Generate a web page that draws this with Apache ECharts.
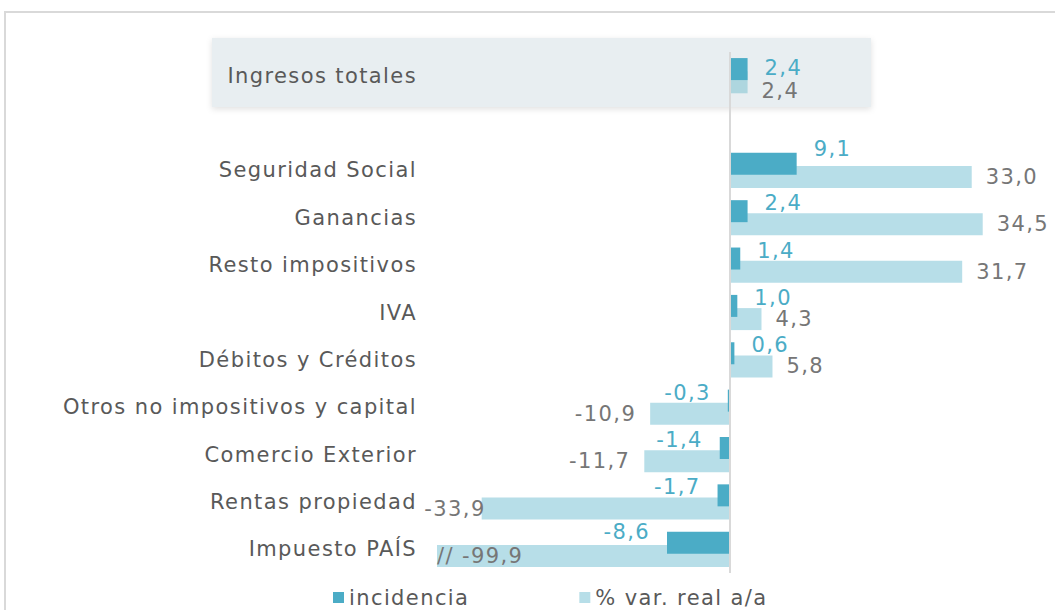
<!DOCTYPE html>
<html>
<head>
<meta charset="utf-8">
<script src="https://cdn.jsdelivr.net/npm/echarts@6/dist/echarts.min.js"></script>
<style>
  html, body { margin: 0; padding: 0; background: #fff; }
  #wrap { position: relative; width: 1055px; height: 610px; overflow: hidden; }
  #frame {
    position: absolute; left: 4px; top: 11px; width: 1200px; height: 700px;
    border-top: 2px solid #d9d9d9; border-left: 2px solid #d9d9d9;
  }
  #chart { position: absolute; left: 0; top: 0; width: 1055px; height: 610px; }
  /* la fuente original es más ancha */
  #chart text { letter-spacing: 1.4px; }
</style>
</head>
<body>
<div id="wrap">
  <div id="frame"></div>
  <div id="chart"></div>
</div>
<script>
// categorías (la fila vacía separa el total del resto)
const categories = [
  'Ingresos totales', '', 'Seguridad Social', 'Ganancias', 'Resto impositivos', 'IVA',
  'Débitos y Créditos', 'Otros no impositivos y capital', 'Comercio Exterior',
  'Rentas propiedad', 'Impuesto PAÍS'
]
// incidencia (p.p.)
const incidencia = [2.4, null, 9.1, 2.4, 1.4, 1.0, 0.6, -0.3, -1.4, -1.7, -8.6]
// % var. real a/a
const varReal = [2.4, null, 33.0, 34.5, 31.7, 4.3, 5.8, -10.9, -11.7, -33.9, -99.9]

const AXIS_MIN = -40
const AXIS_MAX = 40

const dark = '#4BACC6'
const light = '#B7DEE8'
const fontFamily = "'Century Gothic', 'DejaVu Sans', sans-serif"

const fmt = v => v.toFixed(1).replace('.', ',')

// desplazamiento vertical de etiquetas (como en el original)
const darkLift = { 0: -1, 2: -15, 10: -11 }
const lightLift = { 0: 9 }

const chart = echarts.init(document.getElementById('chart'), null, { renderer: 'svg' })

const darkData = incidencia.map((v, i) => {
  if (v == null) return null
  const item = {
    value: v,
    label: {
      position: v >= 0 ? 'right' : 'left',
      offset: [0, i in darkLift ? darkLift[i] : -8]
    }
  }
  if (i === 0) item.label.lineHeight = 20
  return item
})

const lightData = varReal.map((v, i) => {
  if (v == null) return null
  const item = {
    value: v,
    label: {
      position: v >= 0 ? 'right' : 'left',
      offset: [0, lightLift[i] || 0]
    }
  }
  if (i === 9) item.label.distance = -4
  if (v < AXIS_MIN) {
    // barra truncada
    item.label = { position: 'insideLeft', distance: 0, formatter: p => '// ' + fmt(p.value) }
  }
  if (i === 0) {
    item.label.lineHeight = 20
    item.itemStyle = { color: '#AED6DF' }
  }
  return item
})

const option = {
  animation: false,
  textStyle: { fontFamily },
  grid: { left: 437, right: 32, top: 52, bottom: 37 },
  graphic: [{
    type: 'rect',
    z: -10,
    shape: { x: 212, y: 38, width: 659, height: 69 },
    style: {
      fill: '#E8EEF1',
      shadowBlur: 6,
      shadowColor: 'rgba(0,0,0,0.12)',
      shadowOffsetY: 2
    }
  }],
  legend: {
    left: 328,
    top: 582,
    itemWidth: 11,
    itemHeight: 11,
    itemGap: 124,
    icon: 'rect',
    textStyle: { fontSize: 21, color: '#595959', fontFamily },
    data: ['incidencia', '% var. real a/a']
  },
  xAxis: {
    type: 'value',
    min: AXIS_MIN,
    max: AXIS_MAX,
    show: false
  },
  yAxis: {
    type: 'category',
    inverse: true,
    data: categories,
    axisLine: { show: false },
    axisTick: { show: false },
    splitLine: { show: false },
    axisLabel: { margin: 20, fontSize: 21, color: '#595959', fontFamily }
  },
  series: [
    {
      name: 'incidencia',
      type: 'bar',
      z: 3,
      barWidth: 22,
      barGap: '-40%',
      itemStyle: { color: dark },
      label: {
        show: true,
        distance: 17,
        color: dark,
        fontSize: 21,
        fontFamily,
        formatter: p => fmt(p.value)
      },
      data: darkData
    },
    {
      name: '% var. real a/a',
      type: 'bar',
      barWidth: 22,
      barGap: '-40%',
      itemStyle: { color: light },
      label: {
        show: true,
        distance: 14,
        color: '#767676',
        fontSize: 21,
        fontFamily,
        formatter: p => fmt(p.value)
      },
      markLine: {
        silent: true,
        symbol: 'none',
        label: { show: false },
        lineStyle: { color: '#D9D9D9', width: 2, type: 'solid' },
        data: [{ xAxis: 0 }]
      },
      data: lightData
    }
  ]
}

chart.setOption(option)
</script>
</body>
</html>
